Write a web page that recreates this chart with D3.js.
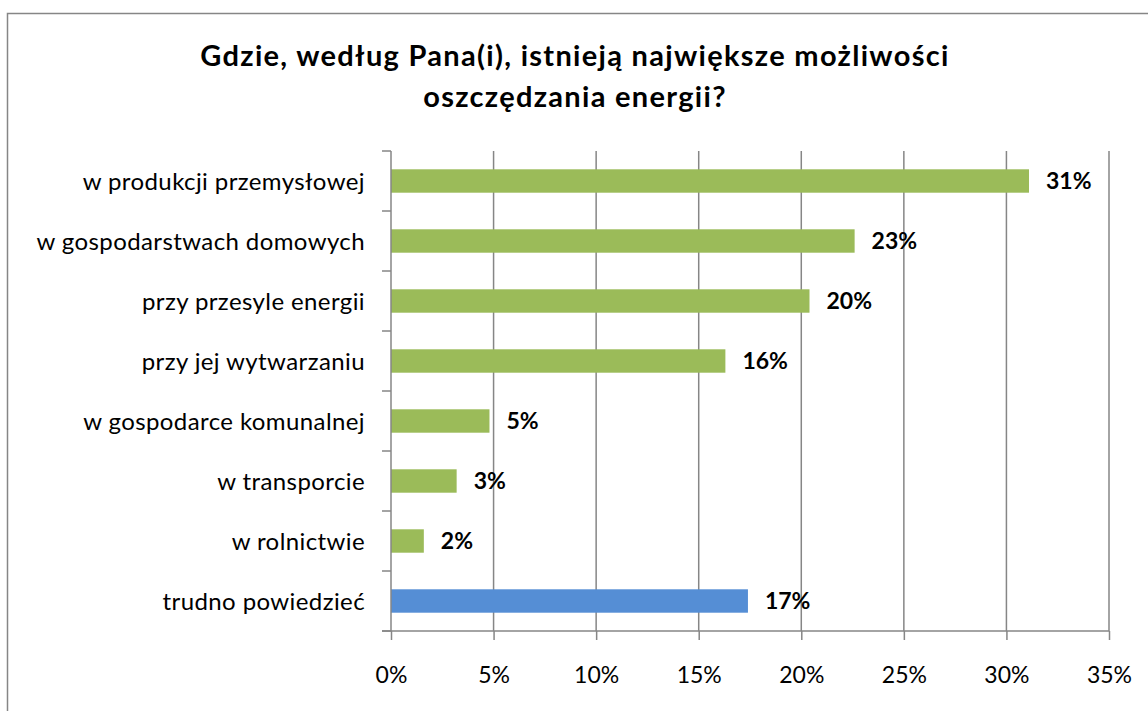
<!DOCTYPE html>
<html>
<head>
<meta charset="utf-8">
<script src="https://cdn.jsdelivr.net/npm/d3@7"></script>
<style>
  body { margin: 0; background: #fff; }
  text { font-family: Lato, "Open Sans", sans-serif; fill: #000; }
</style>
</head>
<body>
<div id="chart"></div>
<script>
// data
var categories = [
  'w produkcji przemysłowej',
  'w gospodarstwach domowych',
  'przy przesyle energii',
  'przy jej wytwarzaniu',
  'w gospodarce komunalnej',
  'w transporcie',
  'w rolnictwie',
  'trudno powiedzieć'
];
var values = [31.1, 22.6, 20.4, 16.3, 4.8, 3.2, 1.6, 17.4];
var valueLabels = ['31%', '23%', '20%', '16%', '5%', '3%', '2%', '17%'];
var barColors = ['#9BBB59', '#9BBB59', '#9BBB59', '#9BBB59', '#9BBB59', '#9BBB59', '#9BBB59', '#558ED5'];
var xTicks = [0, 5, 10, 15, 20, 25, 30, 35];
var titleLines = ['Gdzie, według Pana(i), istnieją największe możliwości', 'oszczędzania energii?'];

var W = 1148, H = 711;
var plot = {left: 391, right: 1109, top: 151, bottom: 631};

var svg = d3.select('#chart').append('svg')
  .attr('width', W)
  .attr('height', H);

// outer frame (runs off the right and bottom edges)
svg.append('rect')
  .attr('x', 7.5).attr('y', 13.5)
  .attr('width', 1300).attr('height', 900)
  .attr('fill', 'none')
  .attr('stroke', '#868686')
  .attr('stroke-width', 1.5);

// title
svg.append('text')
  .attr('text-anchor', 'middle')
  .attr('font-weight', 'bold')
  .attr('font-size', 29)
  .attr('letter-spacing', 1.3)
  .selectAll('tspan')
  .data(titleLines)
  .enter().append('tspan')
  .attr('x', 575)
  .attr('y', function(d, i) { return 66 + i * 41; })
  .text(function(d) { return d; });

var x = d3.scaleLinear().domain([0, 35]).range([plot.left, plot.right]);
var y = d3.scaleBand().domain(categories).range([plot.top, plot.bottom])
  .paddingInner(0.61).paddingOuter(0.305);

// vertical gridlines
svg.append('g')
  .selectAll('line')
  .data(xTicks.slice(1))
  .enter().append('line')
  .attr('x1', function(d) { return x(d); })
  .attr('x2', function(d) { return x(d); })
  .attr('y1', plot.top)
  .attr('y2', plot.bottom)
  .attr('stroke', '#868686')
  .attr('stroke-width', 1.5);

// bars
svg.append('g')
  .selectAll('rect')
  .data(values)
  .enter().append('rect')
  .attr('x', x(0))
  .attr('y', function(d, i) { return y(categories[i]); })
  .attr('width', function(d) { return x(d) - x(0); })
  .attr('height', y.bandwidth())
  .attr('fill', function(d, i) { return barColors[i]; });

// value labels
svg.append('g')
  .selectAll('text')
  .data(values)
  .enter().append('text')
  .attr('x', function(d) { return x(d) + 17; })
  .attr('y', function(d, i) { return y(categories[i]) + y.bandwidth() / 2; })
  .attr('dy', '0.36em')
  .attr('font-weight', 'bold')
  .attr('font-size', 23)
  .text(function(d, i) { return valueLabels[i]; });

// x axis
var xAxis = svg.append('g')
  .attr('transform', 'translate(0,' + plot.bottom + ')')
  .call(d3.axisBottom(x).tickValues(xTicks)
    .tickFormat(function(d) { return d + '%'; })
    .tickSize(9).tickSizeOuter(0).tickPadding(27));
xAxis.select('.domain').attr('stroke', '#868686').attr('stroke-width', 1.5)
  .attr('d', 'M' + (plot.left - 9) + ',0H' + plot.right);
xAxis.selectAll('.tick line').attr('stroke', '#868686').attr('stroke-width', 1.5);
xAxis.selectAll('.tick text').attr('font-size', 23).attr('font-family', 'Lato').attr('fill', '#000');

// y axis: ticks sit on band boundaries
var bounds = categories.map(function(c) { return y(c) - y.step() * y.paddingInner() / 2; });
bounds.push(plot.bottom);
var yAxis = svg.append('g');
yAxis.append('line')
  .attr('x1', plot.left).attr('x2', plot.left)
  .attr('y1', plot.top).attr('y2', plot.bottom)
  .attr('stroke', '#868686').attr('stroke-width', 1.5);
yAxis.selectAll('.ytick')
  .data(bounds)
  .enter().append('line')
  .attr('class', 'ytick')
  .attr('x1', plot.left - 9).attr('x2', plot.left)
  .attr('y1', function(d) { return d; })
  .attr('y2', function(d) { return d; })
  .attr('stroke', '#868686').attr('stroke-width', 1.5);

// category labels
svg.append('g')
  .selectAll('text')
  .data(categories)
  .enter().append('text')
  .attr('x', 365)
  .attr('y', function(d) { return y(d) + y.bandwidth() / 2; })
  .attr('dy', '0.36em')
  .attr('text-anchor', 'end')
  .attr('font-size', 24)
  .attr('letter-spacing', 0.4)
  .text(function(d) { return d; });
</script>
</body>
</html>
